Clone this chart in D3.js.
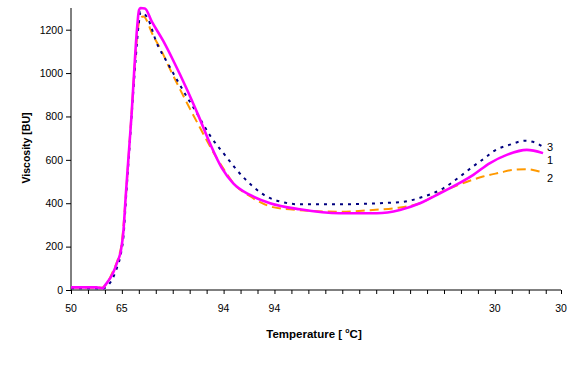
<!DOCTYPE html>
<html><head><meta charset="utf-8">
<script src="https://cdn.jsdelivr.net/npm/d3@7"></script>
<style>body{margin:0;background:#fff}svg{display:block}text{font-family:"Liberation Sans",Arial,sans-serif}</style>
</head><body><svg id="c" width="579" height="367"></svg>
<script>
// sample index (10 samples per tick) and viscosity [BU]
const s1X = [0,15,18.9,19.5,24.8,27.1,29.5,30.8,32.4,33.8,35.8,37.2,38.9,40.1,41,43.6,47.6,54.4,60.3,68.2,75.1,82,88.9,95.7,105.6,117.4,135,158.7,180.3,194,205.8,217.6,237.3,247.1,257,268.8,278.4];
const s1Y = [12,12,8,15,78,125,185,261,447,600,817,1000,1200,1290,1300,1298,1238,1148,1058,928,805,675,563,492,438,400,372,354,354,369,400,446,531,585,623,646,631];
const s2X = [0,15,18,20,25,28,30,32,34,36,38,40,41.5,42.6,48.5,53.5,58.4,64.3,70.2,76.1,84.9,91.4,95.5,105.6,119.1,135,158.7,178,192,205.8,217.6,231,243,253,260.7,268.8,276.6,278.4];
const s2Y = [12,12,10,20,90,150,220,400,620,850,1080,1230,1258,1261,1172,1100,1018,925,835,748,622,542,495,432,382,368,361,369,378,400,449,492,523,541,554,557,546,543];
const s3X = [0,15,18,20,25,27,29.5,31,32.5,34,36,38,40,41,43,45.6,50.5,56.4,62.3,68.2,73.7,82,91.4,97.7,107.3,115.4,123.3,135,154.5,194,205.8,219.6,229.4,237,245.2,248.9,258.9,267.8,273.7,278.4];
const s3Y = [8,8,5,10,60,100,170,250,430,600,830,1050,1230,1280,1275,1246,1140,1054,972,892,822,712,616,554,477,431,408,395,395,405,425,469,523,569,615,638,670,688,680,660];
const yTicks = [0,200,400,600,800,1000,1200];
const xTickPos = d3.range(0,281,10).concat([289]);
const xLabelPos = [0,30,90,120,250,289];
const xLabels = ["50","65","94","94","30","30"];
const seriesNames = ["1","2","3"];

const svg = d3.select("#c");
const x = d3.scaleLinear().domain([0,289]).range([71,561]);
const y = d3.scaleLinear().domain([0,1300]).range([290,8]);

// y axis
const ya = svg.append("g").attr("transform","translate(71,0)")
  .call(d3.axisLeft(y).tickValues(yTicks).tickSize(5).tickPadding(3).tickFormat(d3.format("d")));
ya.select(".domain").attr("d","M0,8V290").attr("stroke","#000");
ya.selectAll(".tick line").attr("stroke","#000");
ya.selectAll(".tick text").attr("font-size","10.5px").attr("fill","#000").attr("font-family","Liberation Sans, Arial");

// x axis
const xa = svg.append("g").attr("transform","translate(0,290)")
  .call(d3.axisBottom(x).tickValues(xTickPos).tickSize(4).tickFormat(""));
xa.select(".domain").attr("d","M71,0H561").attr("stroke","#000");
xa.selectAll(".tick line").attr("stroke","#000");
svg.append("g").selectAll("text").data(xLabelPos).join("text")
  .attr("x",d=>x(d)).attr("y",312).attr("text-anchor","middle")
  .attr("font-size","10.5px").text((d,i)=>xLabels[i]);

// titles
const xt = svg.append("text").attr("x",314).attr("y",338).attr("text-anchor","middle")
  .attr("font-size","11.5px").attr("font-weight","bold");
xt.append("tspan").text("Temperature [ ");
xt.append("tspan").attr("dy",-5).attr("font-size","7px").text("o");
xt.append("tspan").attr("dy",5).text("C]");
svg.append("text").attr("transform","translate(30,148) rotate(-90)").attr("text-anchor","middle")
  .attr("font-size","10.5px").attr("font-weight","bold").text("Viscosity [BU]");

const line = d3.line().x(d=>x(d[0])).y(d=>y(d[1])).curve(d3.curveMonotoneX);
const mk = (X,Y)=>X.map((v,i)=>[v,Y[i]]);
svg.append("path").datum(mk(s2X,s2Y)).attr("d",line).attr("fill","none")
  .attr("stroke","#FF9900").attr("stroke-width",2).attr("stroke-dasharray","9,5");
svg.append("path").datum(mk(s3X,s3Y)).attr("d",line).attr("fill","none")
  .attr("stroke","#000080").attr("stroke-width",2).attr("stroke-dasharray","3,5");
svg.append("path").datum(mk(s1X,s1Y)).attr("d",line).attr("fill","none")
  .attr("stroke","#FF00FF").attr("stroke-width",2.6);

// series labels
const lab = [[550,151],[550,164],[550,182]];
svg.append("g").selectAll("text").data([seriesNames[2],seriesNames[0],seriesNames[1]]).join("text")
  .attr("x",(d,i)=>lab[i][0]).attr("y",(d,i)=>lab[i][1]).attr("text-anchor","middle")
  .attr("font-size","11px").text(d=>d);
</script></body></html>
